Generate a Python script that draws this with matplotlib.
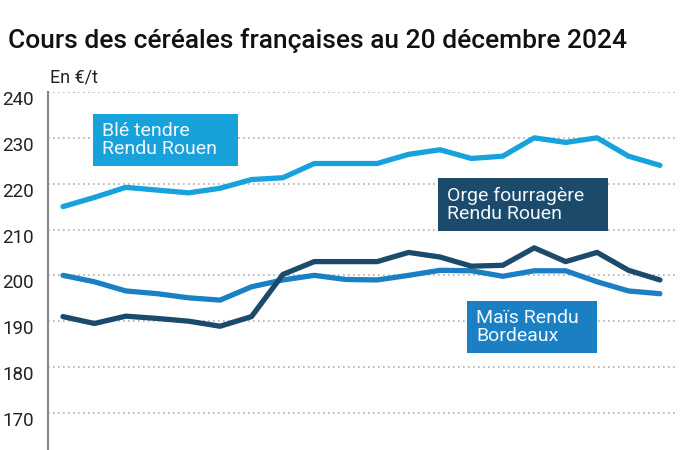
import matplotlib
matplotlib.use("Agg")
import matplotlib.pyplot as plt
from matplotlib.patches import Rectangle
from matplotlib.transforms import ScaledTranslation

plt.rcParams['font.family'] = ['Roboto', 'DejaVu Sans']

# Data (20 weekly quotations, €/t)
x_index = list(range(20))
ble = [215, 217, 219.2, 218.6, 218, 219, 220.9, 221.3, 224.4, 224.4,
       224.4, 226.4, 227.4, 225.5, 226, 230, 229, 230, 226, 224]
orge = [191, 189.5, 191.1, 190.6, 190, 188.9, 191, 200.2, 203, 203,
        203, 205, 204, 202, 202.2, 206, 203, 205, 201.1, 199]
mais = [200, 198.6, 196.6, 196, 195.1, 194.6, 197.5, 199, 200, 199.1,
        199, 200, 201.1, 201, 199.8, 201, 201, 198.6, 196.6, 196]
yticks = [170, 180, 190, 200, 210, 220, 230, 240]

labels = {
    'ble': "Blé tendre\nRendu Rouen",
    'orge': "Orge fourragère\nRendu Rouen",
    'mais': "Maïs Rendu\nBordeaux",
}
c_ble = '#17a2dc'
c_mais = '#1b7fc3'
c_orge = '#1b4a6b'

W, H = 700, 450
fig = plt.figure(figsize=(7, 4.5), dpi=100)
ax = fig.add_axes([48 / W, 0, (675 - 48) / W, 358 / H])

ax.plot(x_index, ble, color=c_ble, lw=3.8, solid_joinstyle='round', solid_capstyle='round', zorder=3)
ax.plot(x_index, mais, color=c_mais, lw=3.8, solid_joinstyle='round', solid_capstyle='round', zorder=4)
ax.plot(x_index, orge, color=c_orge, lw=3.8, solid_joinstyle='round', solid_capstyle='round', zorder=5)

ax.set_xlim(-0.477, 19.48)
ax.set_ylim(161.9, 240.0)
ax.set_yticks(yticks)
ax.set_xticks([])
ax.yaxis.grid(True, color='#b0b0b0', linestyle=(0, (1, 2)), linewidth=1.2)
ax.set_axisbelow(True)
for s in ['top', 'right', 'bottom']:
    ax.spines[s].set_visible(False)
ax.spines['left'].set_color('#888888')
ax.spines['left'].set_linewidth(1.5)
ax.tick_params(axis='y', length=0, pad=10, labelsize=13.5, labelcolor='#222222')
offset = ScaledTranslation(0, -6 / 100, fig.dpi_scale_trans)
for lab in ax.get_yticklabels():
    lab.set_transform(lab.get_transform() + offset)

fig.text(8 / W, 1 - 48 / H, "Cours des céréales françaises au 20 décembre 2024",
         fontsize=19, color='#111111', ha='left', va='baseline', fontweight='medium')
fig.text(50 / W, 1 - 78 / H, "En €/t", fontsize=13, color='#222222', ha='left', va='center')


def box(x0, y0, x1, y1, color, text):
    fig.patches.append(Rectangle((x0 / W, 1 - y1 / H), (x1 - x0) / W, (y1 - y0) / H,
                                 transform=fig.transFigure, facecolor=color,
                                 edgecolor='none', zorder=10))
    fig.text((x0 + 9) / W, 1 - (y0 + y1) / 2 / H, text, fontsize=14, color='#f2f8fc',
             ha='left', va='center', linespacing=1.0, zorder=11)


box(93, 114, 238, 166, c_ble, labels['ble'])
box(438, 178, 608, 231, c_orge, labels['orge'])
box(467, 301, 597, 353, c_mais, labels['mais'])

fig.savefig('out.png', dpi=100)
